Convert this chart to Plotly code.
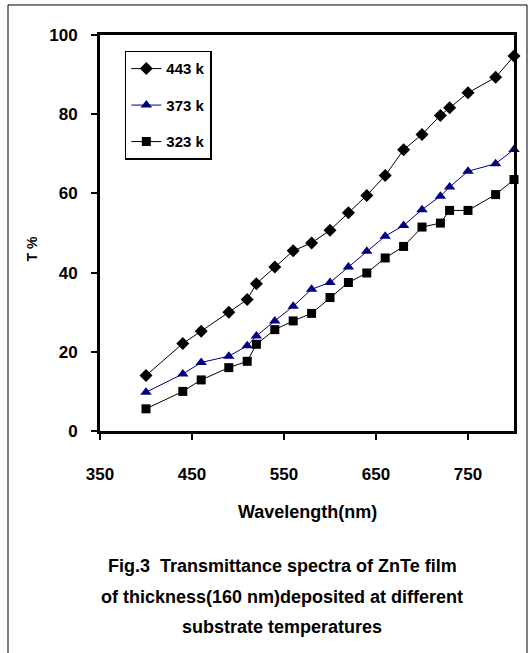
import plotly.graph_objects as go

wavelength = [400, 440, 460, 490, 510, 520, 540, 560, 580, 600,
              620, 640, 660, 680, 700, 720, 730, 750, 780, 800]
t_443 = [14.0, 22.1, 25.2, 30.0, 33.2, 37.2, 41.4, 45.5, 47.5, 50.7,
         55.1, 59.5, 64.5, 71.0, 74.9, 79.7, 81.6, 85.4, 89.3, 94.7]
t_373 = [9.8, 14.4, 17.3, 18.9, 21.5, 24.0, 27.8, 31.5, 35.8, 37.5,
         41.4, 45.4, 49.2, 51.9, 55.9, 59.3, 61.6, 65.6, 67.5, 71.1]
t_323 = [5.6, 10.0, 12.9, 16.0, 17.6, 21.9, 25.6, 27.8, 29.7, 33.7,
         37.5, 39.9, 43.7, 46.6, 51.5, 52.5, 55.7, 55.7, 59.7, 63.5]
series_names = ["443 k", "373 k", "323 k"]
x_ticks = [350, 450, 550, 650, 750]
y_ticks = [0, 20, 40, 60, 80, 100]

FONT = "Liberation Sans, Arial, sans-serif"

fig = go.Figure()
specs = [
    (t_443, "black", "diamond", 10),
    (t_373, "#000080", "triangle-up", 10),
    (t_323, "black", "square", 9),
]
for i, (vals, col, sym, sz) in enumerate(specs):
    fig.add_trace(go.Scatter(
        x=wavelength, y=vals, name=series_names[i], mode="lines+markers",
        line=dict(color=col, width=1),
        marker=dict(symbol=sym, size=sz, color=col),
        legendgroup=f"g{i}", cliponaxis=False,
    ))

axis_common = dict(
    showline=True, mirror=True, linecolor="black", linewidth=3,
    ticks="outside", ticklen=6, tickwidth=2, tickcolor="black",
    showgrid=False, zeroline=False,
    tickfont=dict(family=FONT, size=17, color="black", weight="bold"),
)

fig.update_layout(
    width=530, height=653,
    margin=dict(l=100, r=16, t=35, b=222),
    paper_bgcolor="white", plot_bgcolor="white",
    xaxis=dict(range=[350, 800], tickvals=x_ticks, ticklabelstandoff=20, **axis_common),
    yaxis=dict(range=[0, 100], tickvals=y_ticks, ticklabelstandoff=10, **axis_common),
    legend=dict(
        x=0.06, y=0.96, xanchor="left", yanchor="top",
        bordercolor="black", borderwidth=1.5, bgcolor="white",
        font=dict(family=FONT, size=15, color="black", weight="bold"),
        tracegroupgap=14,
    ),
    showlegend=True,
)

annos = [
    dict(text="T %", x=-0.165, y=0.46, textangle=-90, size=14),
    dict(text="Wavelength(nm)", x=0.5, y=-0.204, textangle=0, size=18),
    dict(text="Fig.3  Transmittance spectra of ZnTe film", x=0.44, y=-0.34, textangle=0, size=18),
    dict(text="of thickness(160 nm)deposited at different", x=0.44, y=-0.418, textangle=0, size=18),
    dict(text="substrate temperatures", x=0.44, y=-0.496, textangle=0, size=18),
]
for a in annos:
    fig.add_annotation(
        text=a["text"], x=a["x"], y=a["y"], xref="paper", yref="paper",
        showarrow=False, textangle=a["textangle"],
        xanchor="center", yanchor="middle",
        font=dict(family=FONT, size=a["size"], color="black", weight="bold"),
    )

fig.add_shape(type="rect", xref="paper", yref="paper",
              x0=-0.2222, x1=1.0314, y0=-0.6, y1=1.0758,
              line=dict(color="black", width=1), layer="below")

fig.write_html("out.html")
